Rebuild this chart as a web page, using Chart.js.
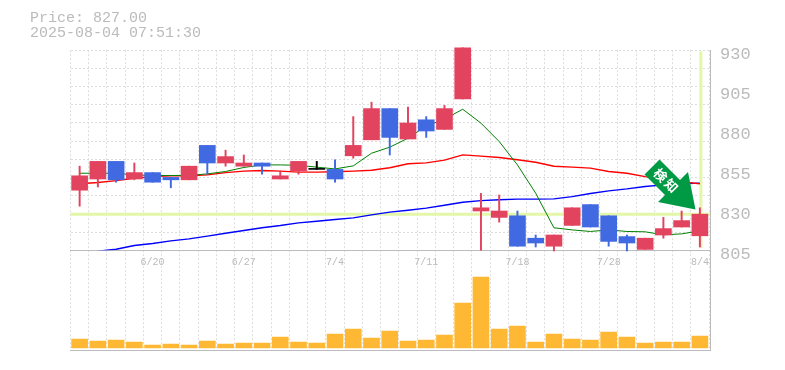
<!DOCTYPE html>
<html>
<head>
<meta charset="utf-8">
<title>Price chart</title>
<script src="https://cdn.jsdelivr.net/npm/chart.js@4"></script>
<style>
    html, body { margin: 0; padding: 0; background: #fff; }
    #wrap { position: relative; width: 785px; height: 370px; overflow: hidden; }
    canvas, svg, .frame, .info { position: absolute; left: 0; top: 0; }
    .info { left: 30px; top: 11px; font: 15px/15px "Liberation Mono", monospace; color: #bbb; white-space: pre; }
    .frame { left: 70px; top: 50px; width: 640px; height: 300px; border-right: 1px solid #bbb; border-bottom: 1px solid #bbb; }
</style>
</head>
<body>
<div id="wrap">
    <canvas id="volChart" width="785" height="370"></canvas>
    <div class="frame"></div>
    <canvas id="priceChart" width="785" height="370"></canvas>
    <div class="info">Price: 827.00
2025-08-04 07:51:30</div>
    <svg width="785" height="370">
        <polygon points="659.5,159.5 680,180 688,172 695.5,209.5 658,202 665,195 644.5,174.5" fill="#009944"/>
        <text x="666.5" y="186" transform="rotate(45 666.5 181.3)" text-anchor="middle" fill="#fff"
              font-family="Noto Sans CJK JP" font-weight="700" font-size="13" letter-spacing="2">検知</text>
    </svg>
</div>
<script>
const dates = ['6/16', '6/17', '6/18', '6/19', '6/20', '6/23', '6/24', '6/25', '6/26', '6/27',
    '6/30', '7/1', '7/2', '7/3', '7/4', '7/7', '7/8', '7/9', '7/10', '7/11',
    '7/14', '7/15', '7/16', '7/17', '7/18', '7/22', '7/23', '7/24', '7/25', '7/28',
    '7/29', '7/30', '7/31', '8/1', '8/4'];
const dateTicks = ['6/20', '6/27', '7/4', '7/11', '7/18', '7/28', '8/4'];
const priceTicks = [805, 830, 855, 880, 905, 930];

const open = [842, 849, 860, 849, 853, 850, 848.5, 870, 859, 857, 859, 849, 854, 855, 855, 863.5, 873.5, 893,
    874, 886, 880, 899, 829, 825, 826, 812, 807, 820, 833, 826, 813, 805, 814, 819, 813.5];
const close = [851, 860, 848.5, 853, 847, 848.5, 857, 859, 863, 859, 857, 851, 860, 855, 849, 870, 893, 875,
    884, 879, 893, 931, 831, 829, 807, 809, 814, 831, 819, 810, 809, 812, 818, 823, 827];
const high = [857, 860, 860, 859, 853, 850, 857, 870, 867, 864, 859, 854, 860, 860, 861, 888, 897, 893,
    894, 888, 895, 931, 840, 839, 829, 814, 814, 831, 833, 826, 814, 812, 825, 829, 831];
const low = [832, 844, 847, 848.5, 847, 843.5, 848.5, 852, 857, 857, 852, 849, 852, 855, 847, 862, 873.5, 864,
    874, 875, 880, 899, 804.5, 822, 807, 806.5, 804, 820, 819, 807, 804, 805, 812, 819, 806.5];

const maShort = [852.6, 852.6, 852.6, 851.6, 851.2, 851.2, 851.2, 852.2, 853.7, 856.2, 857.8, 857.8, 857.6, 856.4,
    855.3, 857.2, 865.1, 868.9, 874.5, 882.2, 886.4, 892.6, 883.9, 872.4, 857.8, 840.1, 818.5, 817.2,
    816.2, 817.2, 816.2, 816, 814.1, 814.7, 816.6];
const maMid = [846, 846.8, 848, 849.5, 850.5, 851, 851, 851.6, 853, 853.9, 854.3, 853.9, 853.3, 853.3,
    853.5, 853.9, 854.5, 856, 858.5, 859.1, 860.8, 864.1, 863.3, 862.4, 861, 859.5, 857, 856.4,
    855.8, 853.7, 852.6, 850.5, 848.9, 847.2, 846];
const maLong = [null, 803.9, 805.1, 807.4, 808.7, 810.3, 811.6, 813.3, 815.1, 816.8, 818.5, 819.9, 821.6, 822.6,
    823.7, 824.7, 826.6, 828.3, 829.5, 830.8, 832.6, 834.5, 835.5, 836, 836.4, 836.4, 836.6, 838,
    839.9, 841.6, 842.8, 844.3, 845.3, 846, 846.4];
const volume = [900, 700, 800, 600, 300, 400, 300, 700, 400, 500, 500, 1100, 600, 500, 1400, 1900, 1000, 1700,
    700, 800, 1300, 4500, 7100, 1900, 2200, 600, 1400, 900, 800, 1600, 1100, 500, 600, 600, 1200];

const lastPrice = 827;

const gridColor = '#ddd';
const textColor = '#bbb';
const upColor = '#e2435f';
const downColor = '#4169e1';
const markColor = '#e4f7a8';

function candleColor(i) {
    if (open[i] === close[i]) return '#000';
    return close[i] > open[i] ? upColor : downColor;
}

const colors = dates.map((d, i) => candleColor(i));

// pale cross at the last price and the last day, under the candles
const priceMark = {
    id: 'priceMark',
    beforeDatasetsDraw(chart) {
        const { ctx, chartArea, scales } = chart;
        const py = scales.y.getPixelForValue(lastPrice);
        const px = scales.x.getPixelForValue(dates.length - 1);
        ctx.save();
        ctx.strokeStyle = markColor;
        ctx.lineWidth = 3;
        ctx.beginPath();
        ctx.moveTo(chartArea.left, py);
        ctx.lineTo(chartArea.right + 1, py);
        ctx.moveTo(px + 1, chartArea.top + 1);
        ctx.lineTo(px + 1, chartArea.bottom - 2);
        ctx.stroke();
        ctx.restore();
    }
};

function maLine(values, color, width) {
    return {
        type: 'line',
        data: values,
        borderColor: color,
        borderWidth: width,
        pointRadius: 0,
        tension: 0,
        order: 3
    };
}

new Chart(document.getElementById('priceChart').getContext('2d'), {
    data: {
        labels: dates,
        datasets: [
            maLine(maShort, '#008000', 1),
            maLine(maMid, '#ff0000', 1.4),
            maLine(maLong, '#0000ff', 1.4),
            {
                type: 'bar',
                data: dates.map((d, i) => [low[i], high[i]]),
                backgroundColor: colors,
                barThickness: 1.3,
                grouped: false,
                clip: false,
                order: 2
            },
            {
                type: 'bar',
                data: dates.map((d, i) => [open[i], close[i]]),
                backgroundColor: colors,
                barThickness: 16,
                minBarLength: 1,
                grouped: false,
                clip: false,
                order: 1
            }
        ]
    },
    options: {
        responsive: false,
        animation: false,
        layout: { padding: { left: 70.5, top: 50.2 } },
        plugins: { legend: { display: false }, tooltip: { enabled: false } },
        scales: {
            x: {
                offset: true,
                afterFit(scale) { scale.height = 119.8; },
                grid: { color: gridColor, offset: true, drawTicks: false },
                border: { color: textColor, dash: [2, 2] },
                ticks: {
                    autoSkip: false,
                    maxRotation: 0,
                    padding: 6,
                    color: textColor,
                    font: { family: 'Liberation Mono', size: 10 },
                    callback(value, index) {
                        return dateTicks.includes(dates[index]) ? dates[index] : '';
                    }
                }
            },
            y: {
                position: 'right',
                min: 804.5,
                max: 929.5,
                afterBuildTicks(scale) { scale.ticks = priceTicks.map(v => ({ value: v })); },
                afterFit(scale) { scale.width = 76; },
                grid: { display: false },
                border: { display: false },
                ticks: {
                    autoSkip: false,
                    padding: 3,
                    labelOffset: 5.5,
                    color: textColor,
                    font: { family: 'Liberation Mono', size: 17 },
                    callback: v => String(v)
                }
            },
            rows: {
                position: 'left',
                min: 0,
                max: 11,
                afterBuildTicks(scale) {
                    const t = [];
                    for (let i = 0; i <= 11; i++) t.push({ value: i });
                    scale.ticks = t;
                },
                afterFit(scale) { scale.width = 0; },
                grid: { color: gridColor, drawTicks: false },
                border: { display: false, dash: [2, 2] },
                ticks: { display: false }
            }
        }
    },
    plugins: [priceMark]
});

new Chart(document.getElementById('volChart').getContext('2d'), {
    type: 'bar',
    data: {
        labels: dates,
        datasets: [{
            data: volume,
            backgroundColor: '#ffb833',
            barThickness: 16
        }]
    },
    options: {
        responsive: false,
        animation: false,
        layout: { padding: { left: 70.5, top: 250.2, right: 76, bottom: 20 } },
        plugins: { legend: { display: false }, tooltip: { enabled: false } },
        scales: {
            x: {
                grid: { color: gridColor, offset: true, drawTicks: false },
                border: { display: false, dash: [2, 2] },
                ticks: { display: false }
            },
            y: {
                display: false,
                min: -200,
                max: 9800
            }
        }
    }
});
</script>
</body>
</html>
